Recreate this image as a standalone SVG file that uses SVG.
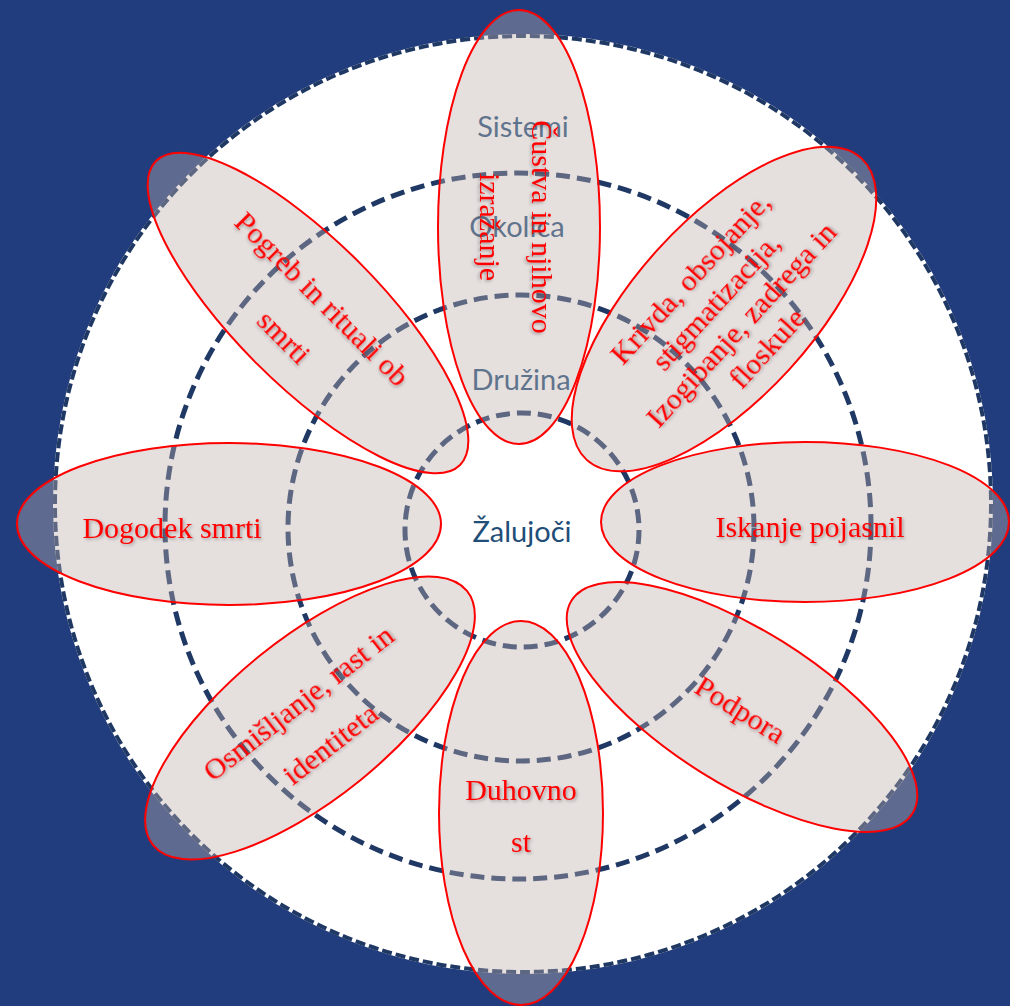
<svg xmlns="http://www.w3.org/2000/svg" width="1010" height="1006" viewBox="0 0 1010 1006">
  <defs>
    <filter id="tshadow" x="-10%" y="-30%" width="120%" height="160%">
      <feDropShadow dx="1.5" dy="1.5" stdDeviation="1.5" flood-color="#000" flood-opacity="0.3"/>
    </filter>
    <style>
      .ring { fill: none; stroke: #1f3864; stroke-width: 5; stroke-dasharray: 14 7; }
      .lbl { font-family: Lato, "Liberation Sans", sans-serif; font-size: 29px; fill: #1f4e79; text-anchor: middle; }
      .petal { fill: rgb(191,175,172); fill-opacity: 0.4; stroke: #ff0000; stroke-width: 2; }
      .ptxt { font-family: "Liberation Serif", serif; font-size: 30px; fill: #ff0000; text-anchor: middle; filter: url(#tshadow); }
    </style>
  </defs>

  <rect x="0" y="0" width="1010" height="1006" fill="#213d7d"/>

  <g id="background-circle">
    <circle cx="523" cy="504" r="468" fill="#ffffff" stroke="#ffffff" stroke-width="4"/>
    <circle cx="523" cy="504" r="468" fill="none" stroke="#1f3864" stroke-width="4" stroke-dasharray="10 4"/>
  </g>

  <g id="rings">
    <circle id="ring-sistemi" class="ring" cx="518" cy="526" r="353"/>
    <circle id="ring-okolica" class="ring" cx="521" cy="528" r="233"/>
    <circle id="ring-druzina" class="ring" cx="522" cy="530" r="117"/>
  </g>

  <g id="ring-labels">
    <text id="lbl-sistemi" class="lbl" x="523" y="137">Sistemi</text>
    <text id="lbl-okolica" class="lbl" x="517" y="237">Okolica</text>
    <text id="lbl-druzina" class="lbl" x="521" y="390">Družina</text>
    <text id="lbl-zalujoci" class="lbl" x="522" y="542">Žalujoči</text>
  </g>

  <g id="petal-custva">
    <ellipse class="petal" cx="519" cy="227" rx="81" ry="217"/>
    <g transform="translate(519,227) rotate(90)">
      <text class="ptxt" x="0" y="-13">Čustva in njihovo</text>
      <text class="ptxt" x="0" y="39">izražanje</text>
    </g>
  </g>

  <g id="petal-krivda">
    <ellipse class="petal" cx="0" cy="0" rx="204" ry="89" transform="translate(724,309) rotate(-47.7)"/>
    <g transform="translate(724,309) rotate(-47.5)">
      <text class="ptxt" x="0" y="-36">Krivda, obsojanje,</text>
      <text class="ptxt" x="0" y="-1">stigmatizacija,</text>
      <text class="ptxt" x="0" y="33">Izogibanje, zadrega in</text>
      <text class="ptxt" x="0" y="68">floskule</text>
    </g>
  </g>

  <g id="petal-iskanje">
    <ellipse class="petal" cx="805" cy="522" rx="204" ry="80"/>
    <text class="ptxt" x="810" y="537">Iskanje pojasnil</text>
  </g>

  <g id="petal-podpora">
    <ellipse class="petal" cx="0" cy="0" rx="201" ry="77" transform="translate(742,707) rotate(32)"/>
    <g transform="translate(742,707) rotate(32)">
      <text class="ptxt" x="0" y="13">Podpora</text>
    </g>
  </g>

  <g id="petal-duhovnost">
    <ellipse class="petal" cx="521" cy="813" rx="82" ry="192"/>
    <text class="ptxt" x="521" y="800">Duhovno</text>
    <text class="ptxt" x="521" y="852">st</text>
  </g>

  <g id="petal-osmisljanje">
    <ellipse class="petal" cx="0" cy="0" rx="202" ry="80" transform="translate(310,718) rotate(-39)"/>
    <g transform="translate(310,718) rotate(-38)">
      <text class="ptxt" x="0" y="-9">Osmišljanje, rast in</text>
      <text class="ptxt" x="0" y="43">identiteta</text>
    </g>
  </g>

  <g id="petal-dogodek">
    <ellipse class="petal" cx="229" cy="524" rx="212" ry="81"/>
    <text class="ptxt" x="172" y="538">Dogodek smrti</text>
  </g>

  <g id="petal-pogreb">
    <ellipse class="petal" cx="0" cy="0" rx="215" ry="72" transform="translate(308,313) rotate(45)"/>
    <g transform="translate(308,313) rotate(45)">
      <text class="ptxt" x="0" y="-10">Pogreb in rituali ob</text>
      <text class="ptxt" x="0" y="44">smrti</text>
    </g>
  </g>

  <g id="connectors"/>
</svg>
